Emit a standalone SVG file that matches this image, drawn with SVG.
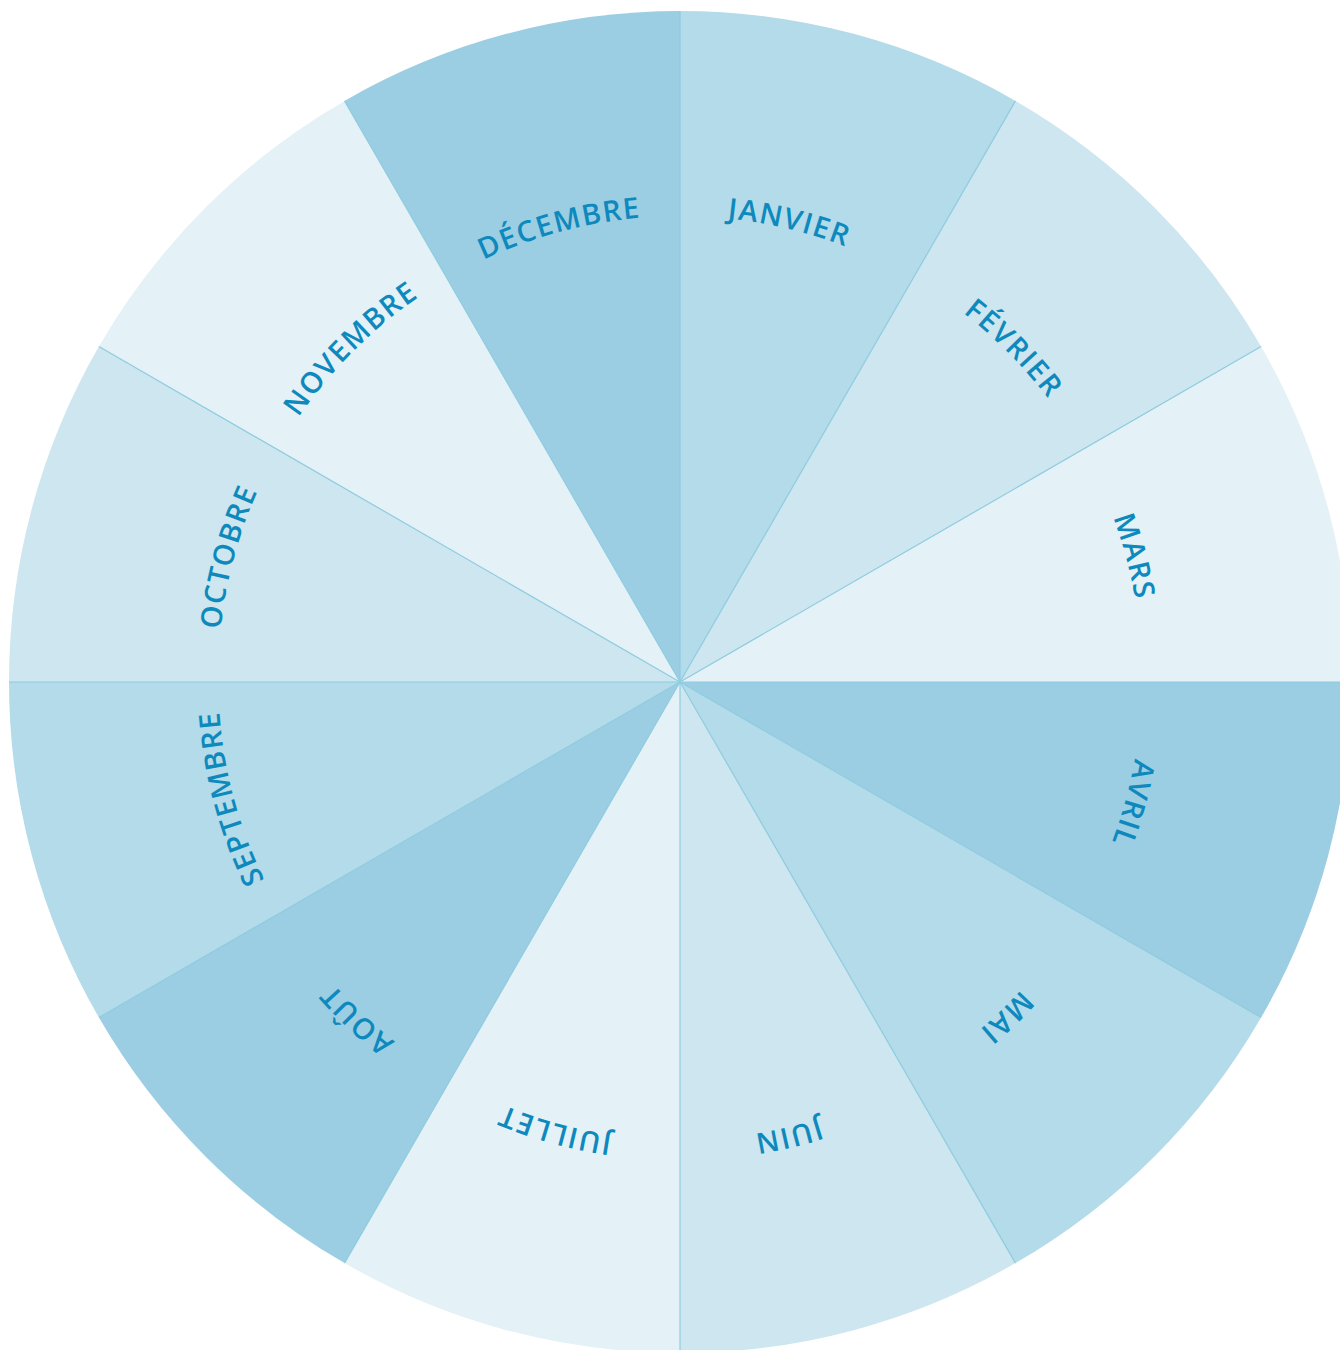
<svg xmlns="http://www.w3.org/2000/svg" xmlns:xlink="http://www.w3.org/1999/xlink" width="1340" height="1350" viewBox="0 0 1340 1350">
<defs>
<style>
.c1{fill:#b3dbe9}
.c2{fill:#cde6ef}
.c3{fill:#e4f2f8}
.c4{fill:#9bcee2}
.lbl{font-family:"Open Sans","Liberation Sans",sans-serif;font-weight:600;font-size:29px;fill:#0d89bd;letter-spacing:1.5px}
.div{stroke:#8ecbe0;stroke-width:1.2}
</style>
<path id="ring" d="M 680,216 A 462 462 0 1 1 680,1140 A 462 462 0 1 1 680,216"/>
</defs>
<rect width="1340" height="1350" fill="#ffffff"/>
<g id="jan"><path class="c1" d="M680 682 L680 11 A671 671 0 0 1 1015.5 100.9 Z"/><text class="lbl"><textPath xlink:href="#ring" href="#ring" startOffset="3.75%" text-anchor="middle">JANVIER</textPath></text></g>
<g id="feb"><path class="c2" d="M680 682 L1015.5 100.9 A671 671 0 0 1 1261.1 346.5 Z"/><text class="lbl"><textPath xlink:href="#ring" href="#ring" startOffset="12.6%" text-anchor="middle">FÉVRIER</textPath></text></g>
<g id="mar"><path class="c3" d="M680 682 L1261.1 346.5 A671 671 0 0 1 1351 682 Z"/><text class="lbl"><textPath xlink:href="#ring" href="#ring" startOffset="20.8333%" text-anchor="middle">MARS</textPath></text></g>
<g id="apr"><path class="c4" d="M680 682 L1351 682 A671 671 0 0 1 1261.1 1017.5 Z"/><text class="lbl"><textPath xlink:href="#ring" href="#ring" startOffset="29.3%" text-anchor="middle">AVRIL</textPath></text></g>
<g id="may"><path class="c1" d="M680 682 L1261.1 1017.5 A671 671 0 0 1 1015.5 1263.1 Z"/><text class="lbl"><textPath xlink:href="#ring" href="#ring" startOffset="37.8%" text-anchor="middle">MAI</textPath></text></g>
<g id="jun"><path class="c2" d="M680 682 L1015.5 1263.1 A671 671 0 0 1 680 1353 Z"/><text class="lbl"><textPath xlink:href="#ring" href="#ring" startOffset="46.3%" text-anchor="middle">JUIN</textPath></text></g>
<g id="jul"><path class="c3" d="M680 682 L680 1353 A671 671 0 0 1 344.5 1263.1 Z"/><text class="lbl"><textPath xlink:href="#ring" href="#ring" startOffset="54.3%" text-anchor="middle">JUILLET</textPath></text></g>
<g id="aug"><path class="c4" d="M680 682 L344.5 1263.1 A671 671 0 0 1 98.9 1017.5 Z"/><text class="lbl"><textPath xlink:href="#ring" href="#ring" startOffset="62.06%" text-anchor="middle">AOÛT</textPath></text></g>
<g id="sep"><path class="c1" d="M680 682 L98.9 1017.5 A671 671 0 0 1 9 682 Z"/><text class="lbl"><textPath xlink:href="#ring" href="#ring" startOffset="70.8333%" text-anchor="middle">SEPTEMBRE</textPath></text></g>
<g id="oct"><path class="c2" d="M680 682 L9 682 A671 671 0 0 1 98.9 346.5 Z"/><text class="lbl"><textPath xlink:href="#ring" href="#ring" startOffset="79.1667%" text-anchor="middle">OCTOBRE</textPath></text></g>
<g id="nov"><path class="c3" d="M680 682 L98.9 346.5 A671 671 0 0 1 344.5 100.9 Z"/><text class="lbl"><textPath xlink:href="#ring" href="#ring" startOffset="87.5%" text-anchor="middle">NOVEMBRE</textPath></text></g>
<g id="dec"><path class="c4" d="M680 682 L344.5 100.9 A671 671 0 0 1 680 11 Z"/><text class="lbl"><textPath xlink:href="#ring" href="#ring" startOffset="95.8333%" text-anchor="middle">DÉCEMBRE</textPath></text></g>
<g id="connectors" class="div">
<line x1="680" y1="682" x2="680" y2="11"/>
<line x1="680" y1="682" x2="1015.5" y2="100.9"/>
<line x1="680" y1="682" x2="1261.1" y2="346.5"/>
<line x1="680" y1="682" x2="1351" y2="682"/>
<line x1="680" y1="682" x2="1261.1" y2="1017.5"/>
<line x1="680" y1="682" x2="1015.5" y2="1263.1"/>
<line x1="680" y1="682" x2="680" y2="1353"/>
<line x1="680" y1="682" x2="344.5" y2="1263.1"/>
<line x1="680" y1="682" x2="98.9" y2="1017.5"/>
<line x1="680" y1="682" x2="9" y2="682"/>
<line x1="680" y1="682" x2="98.9" y2="346.5"/>
<line x1="680" y1="682" x2="344.5" y2="100.9"/>
</g>
</svg>
